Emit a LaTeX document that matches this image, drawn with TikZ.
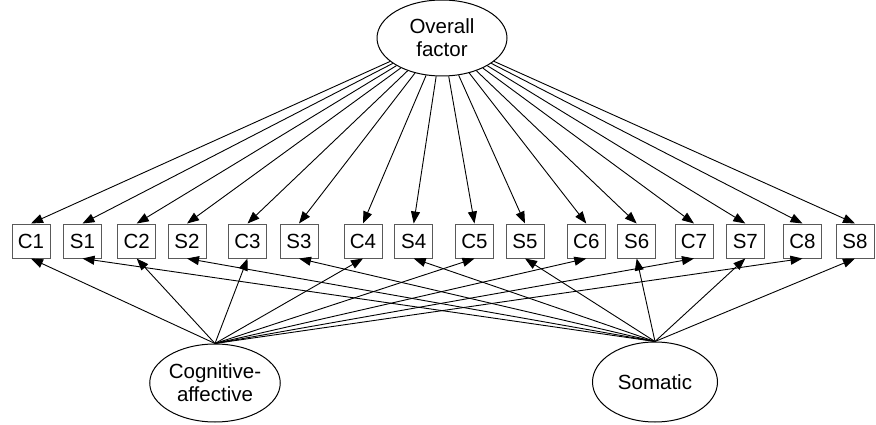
\documentclass[tikz,border=0pt]{standalone}
\usepackage{fontspec}
\setmainfont{Liberation Sans}
\usetikzlibrary{arrows.meta,shapes.geometric}
\begin{document}
\begin{tikzpicture}[x=1pt,y=-1pt,
  item/.style={draw=black!65,line width=1pt,minimum width=38pt,minimum height=34pt,inner sep=1pt,font=\fontsize{20.5}{23}\selectfont},
  factor/.style={draw,ellipse,line width=1pt,inner sep=0pt,align=center,font=\fontsize{20.5}{23}\selectfont},
  load/.style={line width=0.9pt,-{Triangle[length=12pt,width=9pt]}}]
\useasboundingbox (0,0) rectangle (876,425);
\node[factor,minimum width=130pt,minimum height=76pt] (ov) at (442,38) {Overall\\factor};
\node[factor,minimum width=126pt,minimum height=78pt] (cog) at (215,383) {Cognitive-\\affective};
\node[factor,minimum width=125pt,minimum height=80pt] (som) at (655,382) {Somatic};
\foreach \n/\x in {C1/31,S1/82.5,C2/136.7,S2/187,C3/247.5,S3/299,C4/363,S4/413.7,C5/474.5,S5/525,C6/586.3,S6/636.7,C7/694,S7/745.3,C8/802.5,S8/855}
  \node[item] (\n) at (\x,241) {\n};
\foreach \n in {C1,S1,C2,S2,C3,S3,C4,S4,C5,S5,C6,S6,C7,S7,C8,S8}
  \draw[load] (ov) -- (\n.north);
\foreach \n in {C1,C2,C3,C4,C5,C6,C7,C8}
  \draw[load] (cog.north) -- (\n.south);
\foreach \n in {S1,S2,S3,S4,S5,S6,S7,S8}
  \draw[load] (som.north) -- (\n.south);
\end{tikzpicture}
\end{document}
